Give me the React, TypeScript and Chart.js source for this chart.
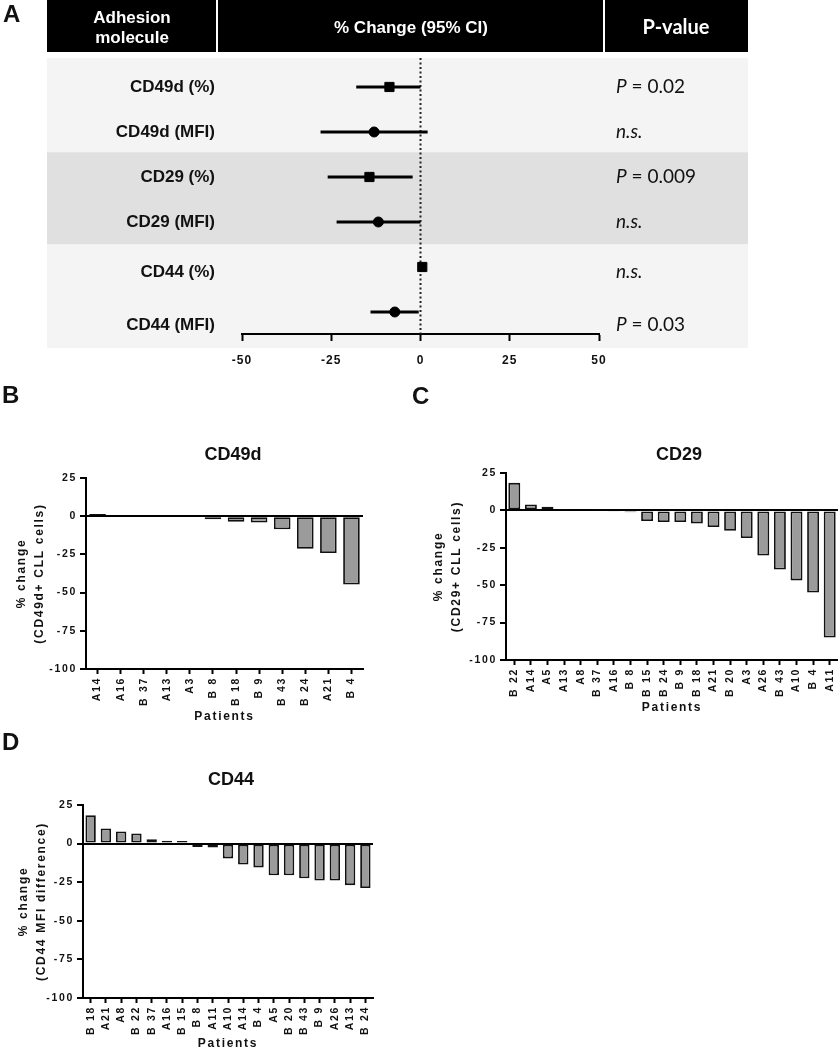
import React, { useEffect, useRef } from 'react';
import { Chart, registerables } from 'chart.js';

Chart.register(...registerables);

const FONT = "'Liberation Sans', Arial, Helvetica, sans-serif";
const PFONT = "Lato, 'Open Sans', sans-serif";
Chart.defaults.font.family = FONT;
Chart.defaults.color = '#111';

// ---------- Panel A: forest table ----------
const forestLabels = ['CD49d (%)', 'CD49d (MFI)', 'CD29 (%)', 'CD29 (MFI)', 'CD44 (%)', 'CD44 (MFI)'];
const forestEstimate = [-8.7, -13, -14.3, -11.8, 0.5, -7.2];
const forestLow = [-18, -28, -26, -23.5, 0, -14];
const forestHigh = [0, 2, -2.2, 0, 1, -0.5];
const forestMarker = ['rect', 'circle', 'rect', 'circle', 'rect', 'circle'];
const pValuePrefix = ['P', '', 'P', '', '', 'P'];
const pValueText = [' = 0.02', 'n.s.', ' = 0.009', 'n.s.', 'n.s.', ' = 0.03'];
const forestTicks = [-50, -25, 0, 25, 50];
const headerTitles = ['Adhesion|molecule', '% Change (95% CI)', 'P-value'];

// ---------- Panels B-D: waterfall bars ----------
const cd49dPatients = ['A14', 'A16', 'B 37', 'A13', 'A3', 'B 8', 'B 18', 'B 9', 'B 43', 'B 24', 'A21', 'B 4'];
const cd49dChange = [1.5, 0, 0, 0, 0, -2, -3.7, -4.2, -8.6, -21.3, -24.1, -44.7];

const cd29Patients = ['B 22', 'A14', 'A5', 'A13', 'A8', 'B 37', 'A16', 'B 8', 'B 15', 'B 24', 'B 9', 'B 18', 'A21', 'B 20', 'A3', 'A26', 'B 43', 'A10', 'B 4', 'A11'];
const cd29Change = [18.4, 4, 2.5, 1, 0.7, 0.3, -0.5, -1.2, -7.1, -7.8, -7.8, -8.7, -11.1, -13.6, -18.4, -30.2, -39.5, -46.8, -54.9, -85];

const cd44Patients = ['B 18', 'A21', 'A8', 'B 22', 'B 37', 'A16', 'B 15', 'B 8', 'A11', 'A10', 'A14', 'B 4', 'A5', 'B 20', 'B 43', 'B 9', 'A26', 'A13', 'B 24'];
const cd44Change = [18.4, 9.8, 7.9, 6.6, 2.8, 1.9, 1.7, -2.2, -2.6, -9.6, -13.5, -15.4, -20.5, -20.5, -22.4, -23.9, -23.9, -26.9, -28.8];

const barTicks = [25, 0, -25, -50, -75, -100];

function forestConfig(): any {
  const rows = forestLabels.map((_, i) => i);
  const labelShift = [0, 0, 0, 0, 5, 13];
  const decor = {
    id: 'forestDecor',
    beforeUpdate(chart: any) { chart.ctx.letterSpacing = '1px'; },
    beforeLayout(chart: any) { chart.ctx.letterSpacing = '1px'; },
    beforeDraw(chart: any) {
      const ctx = chart.ctx;
      const y = chart.scales.y;
      const ca = chart.chartArea;
      ctx.save();
      ctx.letterSpacing = '0px';
      // row bands
      const b1 = y.getPixelForValue(1.45);
      const b2 = y.getPixelForValue(3.5);
      ctx.fillStyle = '#f4f4f4';
      ctx.fillRect(47, ca.top, 701, b1 - ca.top);
      ctx.fillStyle = '#e0e0e0';
      ctx.fillRect(47, b1, 701, b2 - b1);
      ctx.fillStyle = '#f4f4f4';
      ctx.fillRect(47, b2, 701, ca.bottom + 14 - b2);
      // header
      ctx.fillStyle = '#000';
      ctx.fillRect(47, 0, 701, 52);
      ctx.fillStyle = '#fff';
      ctx.fillRect(216, 0, 2, 52);
      ctx.fillRect(603, 0, 2, 52);
      ctx.textAlign = 'center';
      ctx.textBaseline = 'middle';
      ctx.font = `bold 17px ${FONT}`;
      const h0 = headerTitles[0].split('|');
      ctx.fillText(h0[0], 132, 18);
      ctx.fillText(h0[1], 132, 38);
      ctx.fillText(headerTitles[1], 411, 28);
      ctx.font = `bold 20px ${PFONT}`;
      ctx.fillText(headerTitles[2], 676, 28);
      // row labels and p-values
      ctx.fillStyle = '#111';
      rows.forEach((i) => {
        const py = y.getPixelForValue(i) + labelShift[i];
        ctx.textAlign = 'right';
        ctx.font = `bold 17px ${FONT}`;
        ctx.fillText(forestLabels[i], 215, py);
        ctx.textAlign = 'left';
        let px = 616;
        if (pValuePrefix[i]) {
          ctx.font = `italic 19px ${PFONT}`;
          ctx.fillText(pValuePrefix[i], px, py);
          px += ctx.measureText(pValuePrefix[i]).width;
          ctx.font = `19px ${PFONT}`;
          ctx.fillText(pValueText[i], px, py);
        } else {
          ctx.font = `italic 19px ${PFONT}`;
          ctx.fillText(pValueText[i], px, py);
        }
      });
      // panel letter
      ctx.font = `bold 24px ${FONT}`;
      ctx.textAlign = 'left';
      ctx.fillText('A', 3, 15);
      ctx.restore();
      ctx.letterSpacing = '1px';
    },
    beforeDatasetsDraw(chart: any) {
      const ctx = chart.ctx;
      const x0 = chart.scales.x.getPixelForValue(0);
      const ca = chart.chartArea;
      ctx.save();
      ctx.strokeStyle = '#222';
      ctx.lineWidth = 2;
      ctx.setLineDash([2, 2.5]);
      ctx.beginPath();
      ctx.moveTo(x0, ca.top);
      ctx.lineTo(x0, ca.bottom);
      ctx.stroke();
      ctx.restore();
    },
  };

  const ciSets = rows.map((i) => ({
    type: 'line',
    data: [{ x: forestLow[i], y: i }, { x: forestHigh[i], y: i }],
    borderColor: '#000',
    borderWidth: 3,
    pointRadius: 0,
    showLine: true,
    tension: 0,
    order: 2,
  }));
  const markerSet = {
    type: 'scatter',
    data: rows.map((i) => ({ x: forestEstimate[i], y: i })),
    pointStyle: forestMarker,
    pointRadius: forestMarker.map((m) => (m === 'rect' ? 6.5 : 5)),
    backgroundColor: '#000',
    borderColor: '#000',
    borderWidth: 1,
    order: 1,
  };

  return {
    type: 'scatter',
    data: { datasets: [markerSet, ...ciSets] },
    options: {
      animation: false,
      responsive: false,
      devicePixelRatio: 1,
      events: [],
      layout: { padding: { left: 242, right: 239, top: 58, bottom: 8 } },
      plugins: { legend: { display: false }, tooltip: { enabled: false } },
      scales: {
        x: {
          type: 'linear',
          min: -50,
          max: 50,
          afterBuildTicks: (s: any) => { s.ticks = forestTicks.map((v) => ({ value: v })); },
          grid: { drawOnChartArea: false, drawTicks: true, tickLength: 7, tickColor: '#000', tickWidth: 2 },
          border: { display: true, color: '#000', width: 2 },
          ticks: { color: '#111', padding: 12, font: { size: 12, weight: 'bold' } },
          afterFit: (s: any) => { s.height = 30; s.paddingLeft = 0; s.paddingRight = 0; },
        },
        y: {
          type: 'linear',
          display: false,
          reverse: true,
          min: -0.644,
          max: 5.489,
        },
      },
    },
    plugins: [decor],
  };
}

function barConfig(p: any): any {
  const spacing = '1.7px';
  const decor = {
    id: 'barDecor',
    beforeUpdate(chart: any) { chart.ctx.letterSpacing = spacing; },
    beforeLayout(chart: any) { chart.ctx.letterSpacing = spacing; },
    beforeDraw(chart: any) { chart.ctx.letterSpacing = spacing; },
    afterDraw(chart: any) {
      const ctx = chart.ctx;
      ctx.save();
      ctx.letterSpacing = '0px';
      ctx.fillStyle = '#111';
      ctx.textBaseline = 'middle';
      ctx.textAlign = 'left';
      ctx.font = `bold 24px ${FONT}`;
      ctx.fillText(p.letter, p.letterPos[0], p.letterPos[1]);
      ctx.textAlign = 'center';
      ctx.font = `bold 18px ${FONT}`;
      ctx.fillText(p.title, p.titlePos[0], p.titlePos[1]);
      ctx.restore();
      ctx.letterSpacing = spacing;
    },
  };
  return {
    type: 'bar',
    data: {
      labels: p.labels,
      datasets: [{
        data: p.values,
        backgroundColor: '#9b9b9b',
        borderColor: '#111',
        borderWidth: 1.8,
        borderSkipped: false,
        barPercentage: p.barPct,
        categoryPercentage: 1,
      }],
    },
    options: {
      animation: false,
      responsive: false,
      devicePixelRatio: 1,
      events: [],
      layout: { padding: p.padding },
      plugins: { legend: { display: false }, tooltip: { enabled: false } },
      scales: {
        x: {
          type: 'category',
          offset: true,
          grid: { display: true, offset: false, drawOnChartArea: false, drawTicks: true, tickLength: 5, tickColor: '#000', tickWidth: 2 },
          border: { display: true, color: '#000', width: 2 },
          ticks: { autoSkip: false, minRotation: 90, maxRotation: 90, padding: 3, color: '#111', font: { size: 10.5, weight: 'bold' } },
          title: { display: true, text: 'Patients', color: '#111', font: { size: 12, weight: 'bold', lineHeight: 1 }, padding: { top: 0, bottom: p.xTitlePad } },
          afterFit: (s: any) => { s.height = p.xh; s.paddingLeft = 0; s.paddingRight = 0; },
        },
        y: {
          type: 'linear',
          min: -100,
          max: 25,
          afterBuildTicks: (s: any) => { s.ticks = barTicks.map((v) => ({ value: v })); },
          grid: {
            color: (c: any) => (c.tick && c.tick.value === 0 ? '#000' : 'rgba(0,0,0,0)'),
            lineWidth: 2,
            drawTicks: true,
            tickLength: 6,
            tickColor: '#000',
            tickWidth: 2,
          },
          border: { display: true, color: '#000', width: 2 },
          ticks: { padding: 3, color: '#111', font: { size: 10.5, weight: 'bold' } },
          title: { display: true, text: p.yTitle, color: '#111', font: { size: 12, weight: 'bold', lineHeight: 1.55 }, padding: 0 },
          afterFit: (s: any) => { s.width = p.yw; s.paddingTop = 0; s.paddingBottom = 0; },
        },
      },
    },
    plugins: [decor],
  };
}

function ChartCanvas(props: { left: number; top: number; width: number; height: number; make: () => any }) {
  const ref = useRef<HTMLCanvasElement>(null);
  useEffect(() => {
    const chart = new Chart(ref.current as HTMLCanvasElement, props.make());
    return () => chart.destroy();
  }, []);
  return (
    <canvas
      ref={ref}
      width={props.width}
      height={props.height}
      style={{ position: 'absolute', left: props.left, top: props.top, width: props.width, height: props.height }}
    />
  );
}

export default function App() {
  return (
    <div style={{ position: 'absolute', left: 0, top: 0, width: 838, height: 1050, background: '#fff', overflow: 'hidden' }}>
      <ChartCanvas left={0} top={0} width={838} height={372} make={forestConfig} />
      <ChartCanvas
        left={0} top={370} width={400} height={360}
        make={() => barConfig({
          labels: cd49dPatients, values: cd49dChange, barPct: 0.72,
          padding: { left: 12, top: 108, right: 37, bottom: 0 }, yw: 74, xh: 61, xTitlePad: 7,
          yTitle: ['% change', '(CD49d+ CLL cells)'],
          letter: 'B', letterPos: [2, 26], title: 'CD49d', titlePos: [233, 85],
        })}
      />
      <ChartCanvas
        left={400} top={370} width={438} height={360}
        make={() => barConfig({
          labels: cd29Patients, values: cd29Change, barPct: 0.72,
          padding: { left: 29, top: 103, right: 0, bottom: 0 }, yw: 77, xh: 70, xTitlePad: 16,
          yTitle: ['% change', '(CD29+ CLL cells)'],
          letter: 'C', letterPos: [12, 27], title: 'CD29', titlePos: [279, 85],
        })}
      />
      <ChartCanvas
        left={0} top={730} width={400} height={320}
        make={() => barConfig({
          labels: cd44Patients, values: cd44Change, barPct: 0.68,
          padding: { left: 14, top: 75, right: 27, bottom: 0 }, yw: 69, xh: 52, xTitlePad: 0,
          yTitle: ['% change', '(CD44 MFI difference)'],
          letter: 'D', letterPos: [2, 13], title: 'CD44', titlePos: [231, 50],
        })}
      />
    </div>
  );
}
